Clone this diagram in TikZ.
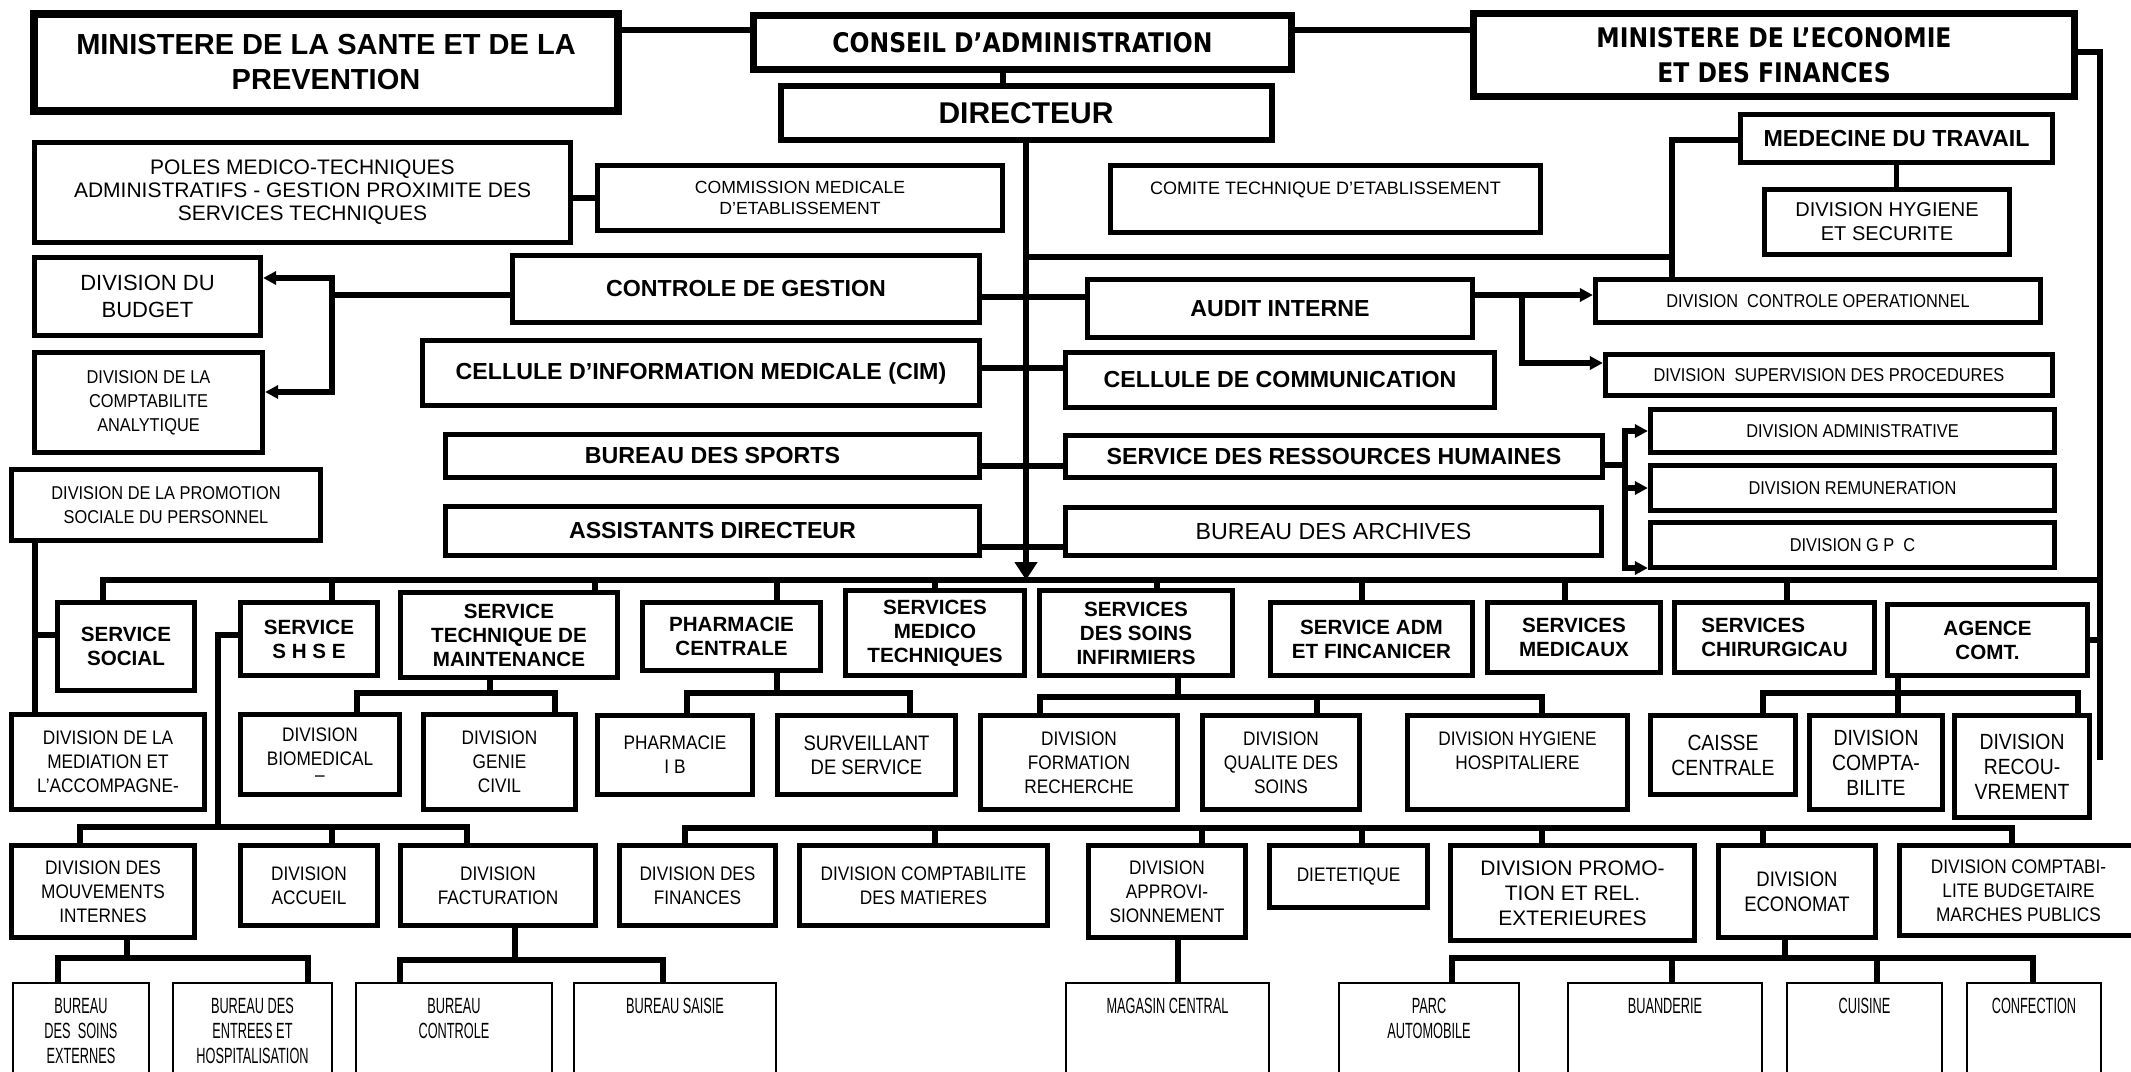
\documentclass[tikz,border=0pt]{standalone}
\usepackage{fontspec}
\setmainfont{Liberation Sans}
\newfontfamily\narrowfont[FakeStretch=0.88]{Liberation Sans}
\newfontfamily\tahfont[FakeStretch=0.87]{DejaVu Sans}
\newfontfamily\condfont[FakeStretch=0.58]{Liberation Sans}
\usetikzlibrary{arrows.meta,positioning}

\tikzset{
  box/.style={draw, line width=2.6pt, inner sep=0pt, align=center},
  sz/.style 2 args={minimum width=#1*0.5pt, minimum height=#2*0.5pt},
  head/.style={box, line width=3.5pt},
  bld/.style={box, font=\bfseries\fontsize{11.6}{14}\selectfont},
  svc/.style={box, font=\bfseries\fontsize{10.3}{12}\selectfont},
  div/.style={box, font=\narrowfont\fontsize{9.8}{12}\selectfont},
  sml/.style={box, font=\narrowfont\fontsize{9.3}{12}\selectfont},
  bur/.style={draw, line width=1.2pt, inner sep=0pt, minimum width=#1*0.5pt, minimum height=58pt},
  btxt/.style={anchor=north, inner xsep=0pt, inner ysep=8pt, align=center, font=\condfont\fontsize{11}{12.5}\selectfont},
  ln/.style={line width=2.6pt, line cap=rect},
  arr/.style={line width=2.6pt, -{Triangle[length=6.5pt,width=6.5pt]}},
  trunk/.style={line width=3.3pt, -{Triangle[length=9pt,width=11pt]}},
}

\begin{document}
\begin{tikzpicture}[x=0.5pt,y=0.5pt,yscale=-1]
\useasboundingbox (0,0) rectangle (2131,1071);
\fill[white] (0,0) rectangle (2131,1071);

% tutelles et direction
\node[head, line width=4pt, sz={584}{97}, font=\bfseries\fontsize{14.5}{17.5}\selectfont] (msante) at (326,62.5) {MINISTERE DE LA SANTE ET DE LA\\PREVENTION};
\node[head, sz={538}{54}, font=\tahfont\bfseries\fontsize{13.5}{16}\selectfont] (conseil) at (1022.5,42.5) {CONSEIL D’ADMINISTRATION};
\node[head, line width=3pt, sz={491}{54}, font=\bfseries\fontsize{15}{18}\selectfont] (dir) at (1026,113) {DIRECTEUR};
\node[head, sz={601}{83}, font=\tahfont\bfseries\fontsize{13.5}{17.5}\selectfont] (mecon) at (1774,55) {MINISTERE DE L’ECONOMIE\\ET DES FINANCES};

% organes rattaches
\node[box, sz={536}{100}, font=\fontsize{10.5}{11.5}\selectfont] (poles) at (302.5,192.5) {POLES MEDICO-TECHNIQUES\\ADMINISTRATIFS - GESTION PROXIMITE DES\\SERVICES TECHNIQUES};
\node[box, sz={405}{65}, font=\fontsize{8.8}{10.7}\selectfont] (cme) at (800,198) {COMMISSION MEDICALE\\D'ETABLISSEMENT};
\node[box, sz={430}{67}, font=\fontsize{9}{10.7}\selectfont] (cte) at (1325.5,199) {COMITE TECHNIQUE D'ETABLISSEMENT\\~};
\node[bld, sz={312}{48}] (medtrav) at (1896.5,138.5) {MEDECINE DU TRAVAIL};
\node[box, sz={245}{65}, font=\fontsize{10}{12}\selectfont] (dhs) at (1887,222) {DIVISION HYGIENE\\ET SECURITE};
\node[box, sz={226}{78}, font=\fontsize{11}{13.3}\selectfont] (budget) at (147.5,296.5) {DIVISION DU\\BUDGET};
\node[bld, sz={467}{67}] (cgest) at (746,289) {CONTROLE DE GESTION};
\node[bld, sz={385}{58}] (audit) at (1280,308.5) {AUDIT INTERNE};
\node[sml, sz={445}{43}] (dco) at (1818,301) {DIVISION\ \ CONTROLE OPERATIONNEL};
\node[sml, sz={228}{100}] (dca) at (148.5,402.5) {DIVISION DE LA\\COMPTABILITE\\ANALYTIQUE};
\node[bld, sz={557}{65}] (cim) at (701,373) {CELLULE D’INFORMATION MEDICALE (CIM)};
\node[bld, sz={429}{55}] (ccom) at (1280,380) {CELLULE DE COMMUNICATION};
\node[sml, sz={447}{41}] (dsp) at (1829,375) {DIVISION\ \ SUPERVISION DES PROCEDURES};
\node[sml, sz={309}{71}] (dpsp) at (166,505) {DIVISION DE LA PROMOTION\\SOCIALE DU PERSONNEL};
\node[bld, sz={534}{43}] (sports) at (712.5,456) {BUREAU DES SPORTS};
\node[bld, sz={537}{42}] (srh) at (1334,456.5) {SERVICE DES RESSOURCES HUMAINES};
\node[sml, sz={404}{43}] (dadm) at (1852.5,431) {DIVISION ADMINISTRATIVE};
\node[sml, sz={404}{45}] (drem) at (1852.5,488) {DIVISION REMUNERATION};
\node[sml, sz={404}{45}] (dgpc) at (1852.5,545) {DIVISION G P\ \ C};
\node[bld, sz={534}{49}] (assist) at (712.5,531) {ASSISTANTS DIRECTEUR};
\node[box, sz={536}{48}, font=\fontsize{11.6}{14}\selectfont] (archives) at (1333.5,531.5) {BUREAU DES ARCHIVES};

% services
\node[svc, sz={137}{88}] (ssocial) at (126,646.5) {SERVICE\\SOCIAL};
\node[svc, sz={137}{73}] (sshse) at (309,639) {SERVICE\\S H S E};
\node[svc, sz={217}{85}] (stm) at (509,635) {SERVICE\\TECHNIQUE DE\\MAINTENANCE};
\node[svc, sz={178}{68}] (pharmc) at (731.5,636.5) {PHARMACIE\\CENTRALE};
\node[svc, sz={179}{85}] (smt) at (935,633) {SERVICES\\MEDICO\\TECHNIQUES};
\node[svc, sz={193}{85}] (ssi) at (1136,633) {SERVICES\\DES SOINS\\INFIRMIERS};
\node[svc, sz={202}{73}] (saf) at (1371.5,639) {SERVICE ADM\\ET FINCANICER};
\node[svc, sz={173}{70}] (smed) at (1574,637.5) {SERVICES\\MEDICAUX};
\node[svc, sz={200}{70}, align=left] (schir) at (1774.5,637.5) {SERVICES\\CHIRURGICAU};
\node[svc, sz={200}{71}] (agence) at (1987.5,640) {AGENCE\\COMT.};

% divisions, 1er niveau
\node[div, sz={193}{95}] (dmed) at (108,762) {DIVISION DE LA\\MEDIATION ET\\L’ACCOMPAGNE-};
\node[div, sz={159}{80}] (dbio) at (320,754.5) {DIVISION\\BIOMEDICAL\\[-4pt]–};
\node[div, sz={152}{95}] (dgenie) at (499.5,762) {DIVISION\\GENIE\\CIVIL};
\node[div, sz={155}{79}] (pib) at (675,755) {PHARMACIE\\I B};
\node[div, sz={178}{79}, font=\narrowfont\fontsize{10.5}{12}\selectfont] (surv) at (866.5,755) {SURVEILLANT\\DE SERVICE};
\node[div, sz={197}{94}] (dfr) at (1079,762.5) {DIVISION\\FORMATION\\RECHERCHE};
\node[div, sz={157}{94}] (dqs) at (1281,762.5) {DIVISION\\QUALITE DES\\SOINS};
\node[div, sz={220}{94}] (dhh) at (1517.5,762.5) {DIVISION HYGIENE\\HOSPITALIERE\\~};
\node[div, sz={145}{79}, font=\narrowfont\fontsize{11}{12.5}\selectfont] (caisse) at (1723,755) {CAISSE\\CENTRALE};
\node[div, sz={133}{94}, font=\narrowfont\fontsize{11}{12.5}\selectfont] (dcompta) at (1876,762.5) {DIVISION\\COMPTA-\\BILITE};
\node[div, sz={135}{102}, font=\narrowfont\fontsize{11}{12.5}\selectfont] (drec) at (2022,766.5) {DIVISION\\RECOU-\\VREMENT};

% divisions, 2e niveau
\node[div, sz={183}{92}] (dmi) at (103,891.5) {DIVISION DES\\MOUVEMENTS\\INTERNES};
\node[div, sz={137}{80}] (dacc) at (309,885.5) {DIVISION\\ACCUEIL};
\node[div, sz={195}{80}] (dfact) at (498,885.5) {DIVISION\\FACTURATION};
\node[div, sz={156}{80}] (dfin) at (697.5,885.5) {DIVISION DES\\FINANCES};
\node[div, sz={248}{80}] (dcm) at (923.5,885.5) {DIVISION COMPTABILITE\\DES MATIERES};
\node[div, sz={157}{92}] (dappro) at (1167,891.5) {DIVISION\\APPROVI-\\SIONNEMENT};
\node[div, sz={158}{62}] (diet) at (1348.5,876.5) {DIETETIQUE};
\node[div, sz={244}{95}, font=\fontsize{10.5}{12.5}\selectfont] (dpromo) at (1572.5,893) {DIVISION PROMO-\\TION ET REL.\\EXTERIEURES};
\node[div, sz={157}{92}, font=\narrowfont\fontsize{10.5}{12.5}\selectfont] (deco) at (1797,891.5) {DIVISION\\ECONOMAT};
\node[div, sz={238}{90}] (dcbmp) at (2018.5,890.5) {DIVISION COMPTABI-\\LITE BUDGETAIRE\\MARCHES PUBLICS};

% bureaux
\node[bur=136, label={[btxt]north:BUREAU\\DES\ \ SOINS\\EXTERNES}] (bse) at (81,1041) {};
\node[bur=159, label={[btxt]north:BUREAU DES\\ENTREES ET\\HOSPITALISATION}] (bent) at (252.5,1041) {};
\node[bur=196, label={[btxt]north:BUREAU\\CONTROLE}] (bctrl) at (454,1041) {};
\node[bur=202, label={[btxt]north:BUREAU SAISIE}] (bsaisie) at (675,1041) {};
\node[bur=203, label={[btxt]north:MAGASIN CENTRAL}] (magasin) at (1167.5,1041) {};
\node[bur=180, label={[btxt]north:PARC\\AUTOMOBILE}] (parc) at (1429,1041) {};
\node[bur=194, label={[btxt]north:BUANDERIE}] (buand) at (1665,1041) {};
\node[bur=155, label={[btxt]north:CUISINE}] (cuisine) at (1864.5,1041) {};
\node[bur=134, label={[btxt]north:CONFECTION}] (confec) at (2034,1041) {};

% liaisons hautes
\draw[ln] (msante.east |- 0,30) -- (conseil.west |- 0,30);
\draw[ln] (conseil.east |- 0,30) -- (mecon.west |- 0,30);
\draw[ln] (conseil.south -| 1003,0) -- (dir.north -| 1003,0);
\coordinate (mfr) at (2100,52);
\coordinate (mfe) at (2100,757);
\draw[ln] (mecon.east |- mfr) -- (mfr) -- (mfe);
\draw[ln] (agence.east) -- (agence.east -| mfr);

% tronc
\coordinate (busL) at (103,580);
\coordinate (busR) at (2100,580);
\draw[ln] (busL) -- (busR);
\draw[trunk] (dir.south) -- (dir.south |- busL);
\draw[ln] (dir.south |- 0,257) -- (1672,257);
\draw[ln] (medtrav.west |- 0,140) -- (1672,140) -- (1672,0 |- dco.north);
\draw[ln] (medtrav.south) -- (medtrav.south |- dhs.north);
\draw[ln] (cgest.east |- 0,297) -- (audit.west |- 0,297);
\draw[ln] (cim.east |- 0,368) -- (ccom.west |- 0,368);
\draw[ln] (sports.east |- 0,466) -- (srh.west |- 0,466);
\draw[ln] (assist.east |- 0,547) -- (archives.west |- 0,547);
\draw[ln] (poles.east |- cme.west) -- (cme.west);

% controle de gestion
\coordinate (cgk) at (332,295);
\draw[ln] (cgest.west |- cgk) -- (cgk);
\draw[arr] (cgk) -- (332,278) -- (budget.east |- 0,278);
\draw[arr] (cgk) -- (332,392) -- (dca.east |- 0,392);

% audit interne
\coordinate (auk) at (1522,295);
\draw[arr] (audit.east |- auk) -- (dco.west |- auk);
\draw[arr] (auk) -- (1522,363) -- (dsp.west |- 0,363);

% ressources humaines
\coordinate (rhk) at (1625,465);
\draw[ln] (srh.east |- rhk) -- (rhk);
\draw[arr] (rhk) -- (rhk |- dadm.west) -- (dadm.west);
\draw[arr] (rhk |- drem.west) -- (drem.west);
\draw[arr] (rhk) -- (1625,568) -- (dgpc.west |- 0,568);

% services
\foreach \n/\x in {ssocial/103,sshse/332,stm/595,pharmc/777,smt/935,ssi/1157,saf/1362,smed/1565,schir/1787}
  \draw[ln] (\x,580) -- (\x,0 |- \n.north);

% promotion sociale
\draw[ln] (dpsp.south -| 35,0) -- (dmed.north -| 35,0);
\draw[ln] (35,635) -- (ssocial.west |- 0,635);

% SHSE
\coordinate (shk) at (218,827);
\draw[ln] (sshse.west |- 0,635) -- (218,635) -- (shk);
\draw[ln] (80,827) -- (467,827);
\foreach \n/\x in {dmi/80,dacc/332,dfact/467}
  \draw[ln] (\x,827) -- (\x,0 |- \n.north);

% sous-niveaux
\draw[ln] (stm.south -| 490,0) -- (490,693);
\draw[ln] (357,693) -- (555,693);
\foreach \n/\x in {dbio/357,dgenie/555}
  \draw[ln] (\x,693) -- (\x,0 |- \n.north);
\draw[ln] (pharmc.south -| 777,0) -- (777,693);
\draw[ln] (687,693) -- (910,693);
\foreach \n/\x in {pib/687,surv/910}
  \draw[ln] (\x,693) -- (\x,0 |- \n.north);
\draw[ln] (ssi.south -| 1178,0) -- (1178,697);
\draw[ln] (1040,697) -- (1542,697);
\foreach \n/\x in {dfr/1040,dqs/1317,dhh/1542}
  \draw[ln] (\x,697) -- (\x,0 |- \n.north);
\draw[ln] (agence.south -| 1898,0) -- (1898,693);
\draw[ln] (1763,693) -- (2078,693);
\foreach \n/\x in {caisse/1763,dcompta/1898,drec/2078}
  \draw[ln] (\x,693) -- (\x,0 |- \n.north);

\draw[ln] (685,828) -- (2012,828);
\foreach \n/\x in {dfin/685,dcm/935,dappro/1202,diet/1362,dpromo/1542,deco/1763,dcbmp/2012}
  \draw[ln] (\x,828) -- (\x,0 |- \n.north);

% bureaux
\draw[ln] (dmi.south -| 127,0) -- (127,958);
\draw[ln] (58,958) -- (308,958);
\foreach \n/\x in {bse/58,bent/308}
  \draw[ln] (\x,958) -- (\x,0 |- \n.north);
\draw[ln] (dfact.south -| 515,0) -- (515,960);
\draw[ln] (400,960) -- (663,960);
\foreach \n/\x in {bctrl/400,bsaisie/663}
  \draw[ln] (\x,960) -- (\x,0 |- \n.north);
\draw[ln] (dappro.south -| 1178,0) -- (magasin.north -| 1178,0);
\draw[ln] (deco.south -| 1785,0) -- (1785,958);
\draw[ln] (1452,958) -- (2033,958);
\foreach \n/\x in {parc/1452,buand/1672,cuisine/1877,confec/2033}
  \draw[ln] (\x,958) -- (\x,0 |- \n.north);
\end{tikzpicture}
\end{document}
